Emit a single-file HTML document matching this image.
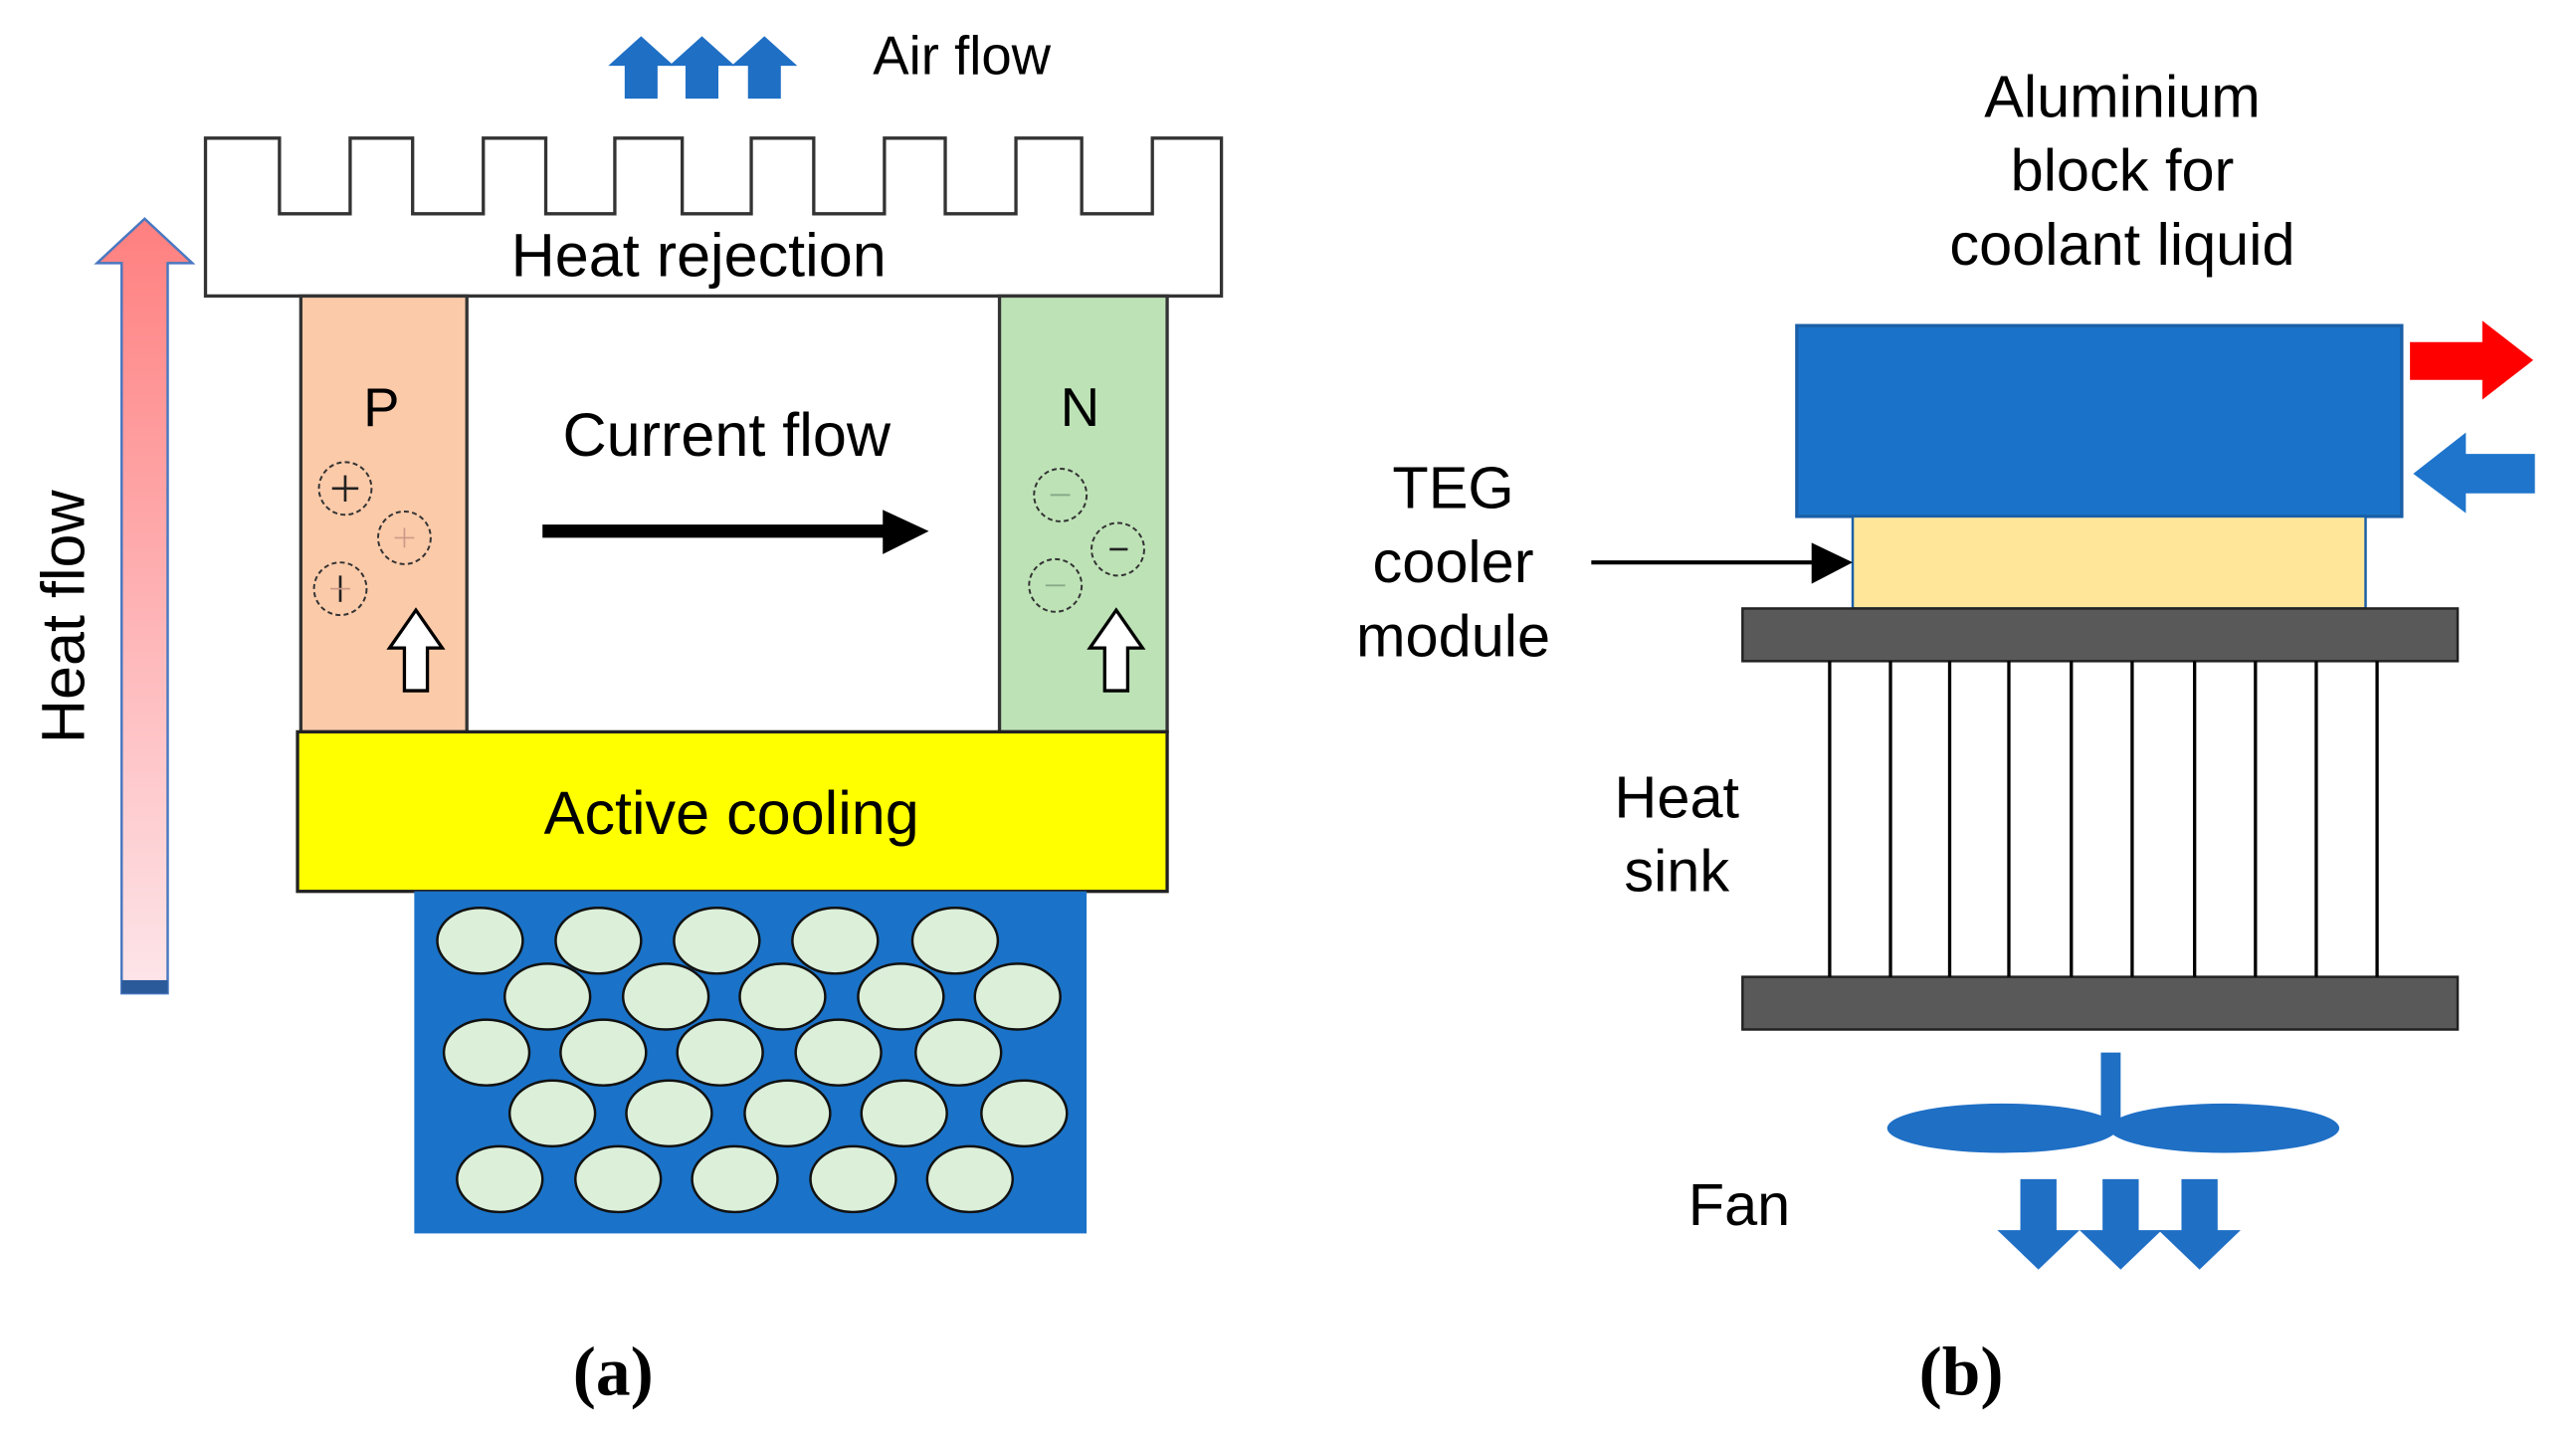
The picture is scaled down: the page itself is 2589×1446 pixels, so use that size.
<!DOCTYPE html>
<html><head><meta charset="utf-8"><style>html,body{margin:0;padding:0;background:#fff}svg{display:block}</style></head>
<body>
<svg width="2589" height="1446" viewBox="0 0 1567 875" preserveAspectRatio="none" xmlns="http://www.w3.org/2000/svg" font-family="Liberation Sans, Arial, sans-serif">
<defs>
<linearGradient id="hg" x1="0" y1="0" x2="0" y2="1"><stop offset="0" stop-color="#ff7f7f"/><stop offset="1" stop-color="#fde6ea"/></linearGradient>
</defs>
<g fill="#1f6fc5">
<path d="M370 40 L390 22 L410 40 L400 40 L400 60 L380 60 L380 40 Z"/>
<path d="M407 40 L427 22 L447 40 L437 40 L437 60 L417 60 L417 40 Z"/>
<path d="M445 40 L465 22 L485 40 L475 40 L475 60 L455 60 L455 40 Z"/>
</g>
<text x="531" y="45" font-size="33">Air flow</text>
<path d="M125 84 H170 V130 H213 V84 H251 V130 H294 V84 H332 V130 H374 V84 H415 V130 H457 V84 H495 V130 H538 V84 H575 V130 H618 V84 H658 V130 H701 V84 H743 V180 H125 Z" fill="#fff" stroke="#333" stroke-width="2"/>
<text x="425" y="168" font-size="37" text-anchor="middle">Heat rejection</text>
<rect x="183" y="180" width="101" height="265" fill="#fbcaa9" stroke="#333" stroke-width="2"/>
<rect x="608" y="180" width="102" height="265" fill="#bde2b6" stroke="#333" stroke-width="2"/>
<text x="232" y="259" font-size="33" text-anchor="middle">P</text>
<text x="657" y="259" font-size="33" text-anchor="middle">N</text>
<g fill="none" stroke="#333" stroke-width="1.2" stroke-dasharray="3 2">
<circle cx="210" cy="297" r="16"/><circle cx="246" cy="327" r="16"/><circle cx="207" cy="358" r="16"/>
<circle cx="645" cy="301" r="16"/><circle cx="680" cy="334" r="16"/><circle cx="642" cy="356" r="16"/>
</g>
<g stroke="#222" stroke-width="1.6"><path d="M202 297 H218 M210 289 V305"/><path d="M207 350 V366"/><path d="M675 334 H686"/></g>
<g stroke="#c98" stroke-width="1"><path d="M240 327 H252 M246 321 V333"/><path d="M201 358 H213"/></g>
<g stroke="#8a8" stroke-width="1.2"><path d="M639 301 H651"/><path d="M636 356 H648"/></g>
<g fill="#fff" stroke="#000" stroke-width="2">
<path d="M237 394 L253 371 L269 394 L260 394 L260 420 L246 420 L246 394 Z"/>
<path d="M663 394 L679 371 L695 394 L686 394 L686 420 L672 420 L672 394 Z"/>
</g>
<text x="442" y="277" font-size="37" text-anchor="middle">Current flow</text>
<path d="M330 319 H540 V327 H330 Z M537 310 L565 323 L537 337 Z" fill="#000"/>
<rect x="181" y="445" width="529" height="97" fill="#ffff00" stroke="#222" stroke-width="2"/>
<text x="445" y="507" font-size="37" text-anchor="middle">Active cooling</text>
<rect x="252" y="542" width="409" height="208" fill="#1a73c8"/>
<g fill="#dcefd9" stroke="#111" stroke-width="1.5">
<ellipse cx="292" cy="572" rx="26" ry="20"/><ellipse cx="364" cy="572" rx="26" ry="20"/><ellipse cx="436" cy="572" rx="26" ry="20"/><ellipse cx="508" cy="572" rx="26" ry="20"/><ellipse cx="581" cy="572" rx="26" ry="20"/>
<ellipse cx="333" cy="606" rx="26" ry="20"/><ellipse cx="405" cy="606" rx="26" ry="20"/><ellipse cx="476" cy="606" rx="26" ry="20"/><ellipse cx="548" cy="606" rx="26" ry="20"/><ellipse cx="619" cy="606" rx="26" ry="20"/>
<ellipse cx="296" cy="640" rx="26" ry="20"/><ellipse cx="367" cy="640" rx="26" ry="20"/><ellipse cx="438" cy="640" rx="26" ry="20"/><ellipse cx="510" cy="640" rx="26" ry="20"/><ellipse cx="583" cy="640" rx="26" ry="20"/>
<ellipse cx="336" cy="677" rx="26" ry="20"/><ellipse cx="407" cy="677" rx="26" ry="20"/><ellipse cx="479" cy="677" rx="26" ry="20"/><ellipse cx="550" cy="677" rx="26" ry="20"/><ellipse cx="623" cy="677" rx="26" ry="20"/>
<ellipse cx="304" cy="717" rx="26" ry="20"/><ellipse cx="376" cy="717" rx="26" ry="20"/><ellipse cx="447" cy="717" rx="26" ry="20"/><ellipse cx="519" cy="717" rx="26" ry="20"/><ellipse cx="590" cy="717" rx="26" ry="20"/>
</g>
<path d="M74 604 V160 H59 L88 133 L117 160 H102 V604 Z" fill="url(#hg)" stroke="#4a78c0" stroke-width="1.5"/>
<rect x="74" y="596" width="28" height="8" fill="#2a5a9a"/>
<text transform="translate(51,375) rotate(-90)" font-size="37" text-anchor="middle">Heat flow</text>
<text x="373" y="848" font-size="42" font-weight="bold" text-anchor="middle" font-family="Liberation Serif, serif">(a)</text>
<g font-size="36" text-anchor="middle">
<text x="1291" y="71">Aluminium</text><text x="1291" y="116">block for</text><text x="1291" y="161">coolant liquid</text>
<text x="884" y="309">TEG</text><text x="884" y="354">cooler</text><text x="884" y="399">module</text>
<text x="1020" y="497">Heat</text><text x="1020" y="542">sink</text>
<text x="1058" y="745">Fan</text>
</g>
<rect x="1093" y="198" width="368" height="116" fill="#1a73c8" stroke="#1a5fa8" stroke-width="2"/>
<rect x="1127" y="314" width="312" height="56" fill="#ffe699" stroke="#1a5fa8" stroke-width="1.5"/>
<path d="M1466 208 H1510 V195 L1541 219 L1510 243 V231 H1466 Z" fill="#ff0000"/>
<path d="M1468 288 L1500 263 V276 H1542 V300 H1500 V312 Z" fill="#1f75cc"/>
<path d="M968 342 H1106" stroke="#000" stroke-width="2.5"/>
<path d="M1102 330 L1127 342 L1102 355 Z" fill="#000"/>
<rect x="1060" y="370" width="435" height="32" fill="#595959" stroke="#222" stroke-width="1.5"/>
<rect x="1060" y="594" width="435" height="32" fill="#595959" stroke="#222" stroke-width="1.5"/>
<g stroke="#000" stroke-width="2">
<path d="M1113 402 V594 M1150 402 V594 M1186 402 V594 M1222 402 V594 M1260 402 V594 M1297 402 V594 M1335 402 V594 M1372 402 V594 M1409 402 V594 M1446 402 V594"/>
</g>
<g fill="#1f6fc5">
<rect x="1278" y="640" width="12" height="48"/>
<ellipse cx="1218" cy="686" rx="70" ry="15"/><ellipse cx="1353" cy="686" rx="70" ry="15"/>
<path d="M1229 717 H1251 V748 H1265 L1240 772 L1215 748 H1229 Z"/>
<path d="M1279 717 H1301 V748 H1315 L1290 772 L1265 748 H1279 Z"/>
<path d="M1327 717 H1349 V748 H1363 L1338 772 L1313 748 H1327 Z"/>
</g>
<text x="1193" y="848" font-size="42" font-weight="bold" text-anchor="middle" font-family="Liberation Serif, serif">(b)</text>
</svg>
</body></html>
